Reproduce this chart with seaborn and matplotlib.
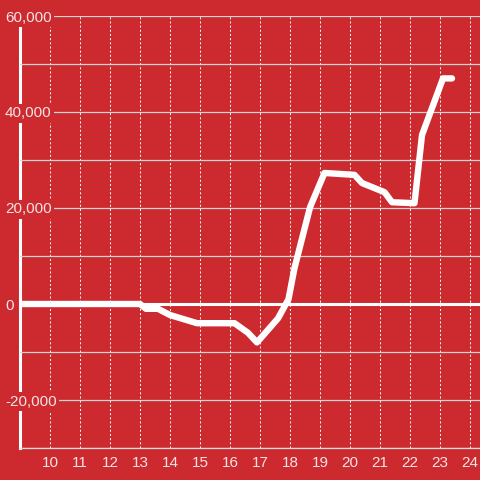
import matplotlib
matplotlib.use("Agg")
import matplotlib.pyplot as plt
import seaborn as sns
import pandas as pd
from matplotlib.ticker import MultipleLocator, FuncFormatter

# values (hour of day, value)
hours = [9.0, 13.0, 13.2, 13.6, 14.0, 14.9, 16.15, 16.6, 16.9, 17.6, 17.95,
         18.15, 18.67, 19.15, 20.15, 20.4, 21.15, 21.4, 22.15, 22.4, 23.1, 23.4]
values = [0, 0, -1000, -1000, -2300, -4000, -4000, -6000, -8000, -3000, 1000,
          7500, 20200, 27300, 26900, 25200, 23300, 21200, 21000, 35200, 47000, 47000]
x_ticks = list(range(10, 25))
y_ticks = [-20000, 0, 20000, 40000, 60000]

bg = "#cc2a2f"
txt = "#f4e4e4"

sns.set_theme(style="white", rc={"axes.facecolor": bg, "figure.facecolor": bg})
plt.rcParams["font.family"] = ["Liberation Sans", "DejaVu Sans"]

df = pd.DataFrame({"hour": hours, "value": values})

fig = plt.figure(figsize=(4.8, 4.8), dpi=100)
ax = fig.add_axes([20 / 480, 32 / 480, 460 / 480, 432 / 480])
ax.set_axisbelow(False)

sns.lineplot(data=df, x="hour", y="value", ax=ax, color="white", linewidth=4.6,
             estimator=None, sort=False, zorder=3)
ax.axhline(0, color="white", linewidth=2.2, zorder=2.8)

ax.set_xlim(9, 9 + 460 / 30)
ax.set_ylim(-30000, 60000)
ax.set_xticks(x_ticks)
ax.set_yticks(y_ticks)
ax.yaxis.set_minor_locator(MultipleLocator(10000))
ax.yaxis.set_major_formatter(FuncFormatter(lambda v, p: f"{int(v):,}"))
ax.set_xlabel("")
ax.set_ylabel("")

ax.grid(axis="x", color="#f0f0f0", linewidth=0.75, linestyle=(0, (2, 2)))
ax.grid(axis="y", which="both", color="#d4d4d4", linewidth=0.9, linestyle="-")

ax.tick_params(axis="x", length=0, pad=5.5, labelsize=11, labelcolor=txt)
ax.tick_params(axis="y", which="both", length=0, pad=10.8, labelsize=11, labelcolor=txt)
for lbl in ax.get_yticklabels():
    lbl.set_horizontalalignment("left")
    lbl.set_bbox(dict(facecolor=bg, edgecolor="none", pad=1.5))

for s in ["top", "right"]:
    ax.spines[s].set_visible(False)
ax.spines["left"].set_color("white")
ax.spines["left"].set_linewidth(2.2)
ax.spines["bottom"].set_color("#dcdcdc")
ax.spines["bottom"].set_linewidth(0.9)

fig.savefig("out.png", dpi=100, facecolor=bg)
